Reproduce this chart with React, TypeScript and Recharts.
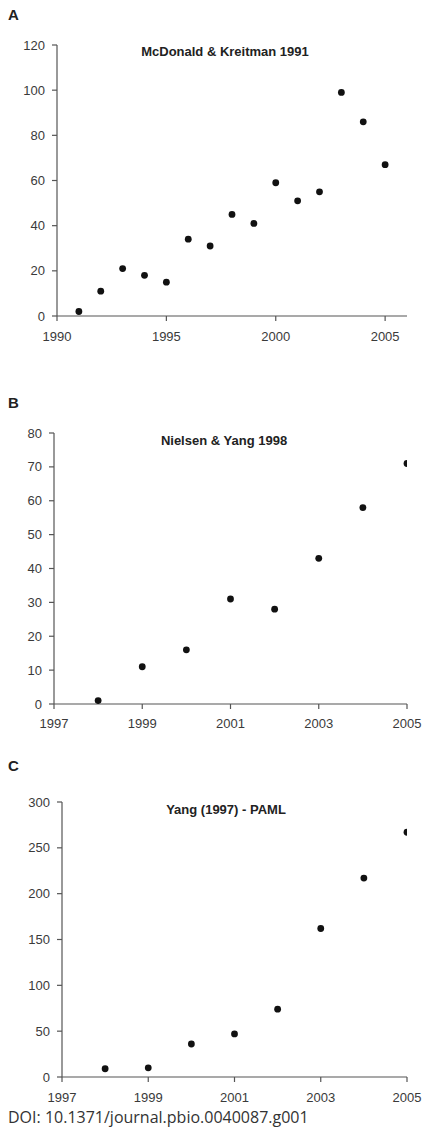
import React from "react";
import { ScatterChart, Scatter, XAxis, YAxis } from "recharts";

// Panel A: McDonald & Kreitman 1991
const yearsA = [1991, 1992, 1993, 1994, 1995, 1996, 1997, 1998, 1999, 2000, 2001, 2002, 2003, 2004, 2005];
const valuesA = [2, 11, 21, 18, 15, 34, 31, 45, 41, 59, 51, 55, 99, 86, 67];
const xTicksA = [1990, 1995, 2000, 2005];
const yTicksA = [0, 20, 40, 60, 80, 100, 120];

// Panel B: Nielsen & Yang 1998
const yearsB = [1998, 1999, 2000, 2001, 2002, 2003, 2004, 2005];
const valuesB = [1, 11, 16, 31, 28, 43, 58, 71];
const xTicksB = [1997, 1999, 2001, 2003, 2005];
const yTicksB = [0, 10, 20, 30, 40, 50, 60, 70, 80];

// Panel C: Yang (1997) - PAML
const yearsC = [1998, 1999, 2000, 2001, 2002, 2003, 2004, 2005];
const valuesC = [9, 10, 36, 47, 74, 162, 217, 267];
const xTicksC = [1997, 1999, 2001, 2003, 2005];
const yTicksC = [0, 50, 100, 150, 200, 250, 300];

const titles = ["McDonald & Kreitman 1991", "Nielsen & Yang 1998", "Yang (1997) - PAML"];
const panelLabels = ["A", "B", "C"];
const doiText = "DOI: 10.1371/journal.pbio.0040087.g001";

const FONT = "'Liberation Sans', Arial, sans-serif";
const AXIS = "#555";
const TEXT = "#3a3a3a";

const toData = (xs: number[], ys: number[]) => xs.map((x, i) => ({ x, y: ys[i] }));

const Dot = (props: any) => (
  <circle cx={props.cx} cy={props.cy} r={3.4} fill="#111" />
);

type PanelProps = {
  top: number;
  height: number;
  margin: { top: number; right: number; bottom: number; left: number };
  yWidth: number;
  xDomain: [number, number];
  yDomain: [number, number];
  xTicks: number[];
  yTicks: number[];
  xGap: number;
  data: { x: number; y: number }[];
};

const tickStyle = { fill: TEXT, fontSize: 13, fontFamily: FONT };

const Panel = (p: PanelProps) => (
  <div style={{ position: "absolute", left: 0, top: p.top, fontSize: 13 }}>
    <ScatterChart width={425} height={p.height} margin={p.margin} style={{ fontSize: 13, fontFamily: FONT }}>
      <XAxis
        type="number"
        dataKey="x"
        domain={p.xDomain}
        ticks={p.xTicks}
        allowDataOverflow
        height={30}
        tickSize={5}
        tickMargin={p.xGap - 5}
        fontSize={13}
        fontFamily={FONT}
        axisLine={{ stroke: AXIS, strokeWidth: 1.2 }}
        tickLine={{ stroke: AXIS, strokeWidth: 1.2 }}
        tick={tickStyle}
      />
      <YAxis
        type="number"
        dataKey="y"
        domain={p.yDomain}
        ticks={p.yTicks}
        allowDataOverflow
        width={p.yWidth}
        tickSize={5}
        tickMargin={7}
        fontSize={13}
        fontFamily={FONT}
        axisLine={{ stroke: AXIS, strokeWidth: 1.2 }}
        tickLine={{ stroke: AXIS, strokeWidth: 1.2 }}
        tick={tickStyle}
      />
      <Scatter data={p.data} shape={Dot} isAnimationActive={false} />
    </ScatterChart>
  </div>
);

export default function App() {
  return (
    <div
      style={{
        position: "absolute",
        left: 0,
        top: 0,
        width: 425,
        height: 1128,
        background: "#fff",
        overflow: "hidden",
        fontFamily: FONT,
      }}
    >
      <Panel
        top={0}
        height={350}
        margin={{ top: 45, right: 18, bottom: 4, left: 0 }}
        yWidth={57}
        xDomain={[1990, 2006]}
        yDomain={[0, 120]}
        xTicks={xTicksA}
        yTicks={yTicksA}
        xGap={16}
        data={toData(yearsA, valuesA)}
      />
      <Panel
        top={360}
        height={380}
        margin={{ top: 73, right: 18, bottom: 6, left: 0 }}
        yWidth={54}
        xDomain={[1997, 2005]}
        yDomain={[0, 80]}
        xTicks={xTicksB}
        yTicks={yTicksB}
        xGap={15}
        data={toData(yearsB, valuesB)}
      />
      <Panel
        top={730}
        height={390}
        margin={{ top: 72, right: 18, bottom: 13, left: 0 }}
        yWidth={62}
        xDomain={[1997, 2005]}
        yDomain={[0, 300]}
        xTicks={xTicksC}
        yTicks={yTicksC}
        xGap={16}
        data={toData(yearsC, valuesC)}
      />
      <svg
        width={425}
        height={1128}
        style={{ position: "absolute", left: 0, top: 0, pointerEvents: "none" }}
      >
        <text x={8} y={20} fontSize={15} fontWeight="bold" fill="#222" fontFamily={FONT}>{panelLabels[0]}</text>
        <text x={8} y={408} fontSize={15} fontWeight="bold" fill="#222" fontFamily={FONT}>{panelLabels[1]}</text>
        <text x={8} y={771} fontSize={15} fontWeight="bold" fill="#222" fontFamily={FONT}>{panelLabels[2]}</text>
        <text x={225} y={55.5} textAnchor="middle" fontSize={13} fontWeight="bold" fill="#222" fontFamily={FONT}>{titles[0]}</text>
        <text x={224} y={444.5} textAnchor="middle" fontSize={13} fontWeight="bold" fill="#222" fontFamily={FONT}>{titles[1]}</text>
        <text x={226} y={813.5} textAnchor="middle" fontSize={13} fontWeight="bold" fill="#222" fontFamily={FONT}>{titles[2]}</text>
        <text x={8} y={1123} fontSize={16} fill="#333" fontFamily="'Open Sans', 'Noto Sans', sans-serif">{doiText}</text>
      </svg>
    </div>
  );
}
